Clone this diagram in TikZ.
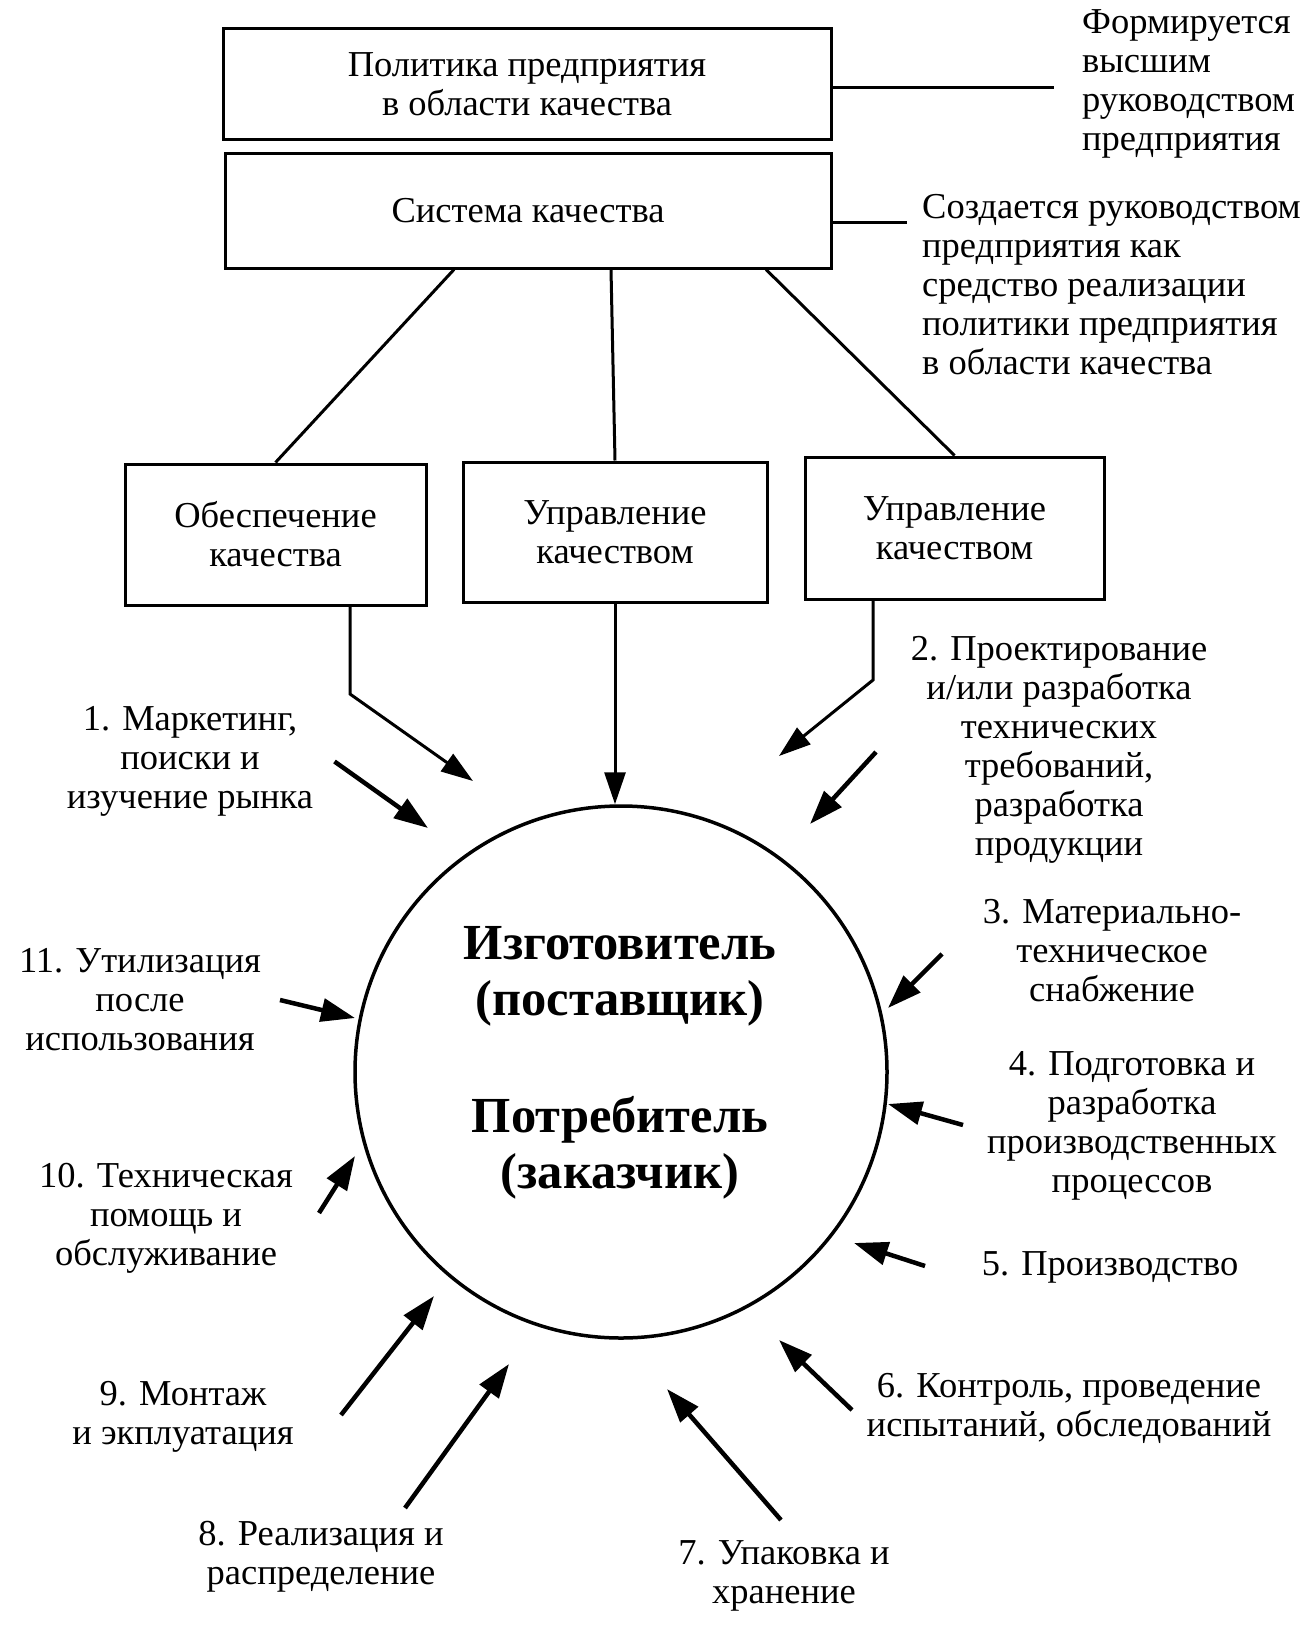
\documentclass[tikz,border=0pt]{standalone}
\usepackage{fontspec}
\setmainfont{Liberation Serif}
\usetikzlibrary{arrows.meta}
\begin{document}
\begin{tikzpicture}[x=1pt,y=-1pt,
  txt/.style={font=\fontsize{36.5}{39}\selectfont},
  box/.style={draw,line width=3pt,inner sep=0pt,align=center,txt},
  lbl/.style={align=center,inner sep=0pt,txt},
  conn/.style={line width=3pt},
  barr/.style={line width=3pt,-{Triangle[length=32pt,width=21pt]}},
  arr/.style={line width=4.5pt,-{Triangle[length=34pt,width=23pt]}},
  big/.style={align=center,inner sep=0pt,font=\fontsize{50.5}{56}\selectfont\bfseries}]
\useasboundingbox[fill=white] (0,0) rectangle (1312,1629);

% boxes
\node[box,minimum width=608pt,minimum height=111pt] (pol) at (527,84.5) {Политика предприятия\\в области качества};
\node[box,minimum width=606pt,minimum height=114pt] (sys) at (528,211) {Система качества};
\node[box,minimum width=301pt,minimum height=141pt] (obe) at (275.5,534.5) {Обеспечение\\качества};
\node[box,minimum width=304pt,minimum height=140pt] (upr1) at (615,532) {Управление\\качеством};
\node[box,minimum width=299pt,minimum height=142pt] (upr2) at (954.5,528) {Управление\\качеством};

% side notes
\node[lbl,align=left,anchor=west,inner xsep=28pt] (form) at (1054,84) {Формируется\\высшим\\руководством\\предприятия};
\node[lbl,align=left,anchor=west,inner xsep=15pt] (sozd) at (907,285) {Создается руководством\\предприятия как\\средство реализации\\политики предприятия\\в области качества};
\draw[conn] ([yshift=-3.5pt]pol.east) -- ([yshift=-3.5pt]pol.east -| form.west);
\draw[conn] ([yshift=-12pt]sys.east) -- ([yshift=-12pt]sys.east -| sozd.west);

% tree lines
\draw[conn] ([xshift=-74pt]sys.south) -- (obe.north);
\draw[conn] ([xshift=83pt]sys.south) -- (upr1.north);
\draw[conn] ([xshift=238pt]sys.south) -- (upr2.north);

% circle
\node[circle,draw,line width=3.5pt,minimum size=532pt,inner sep=0pt] (circ) at (621,1072) {};
\node[big] (izg) at (620,976) {Изготовитель\\(поставщик)};
\node[big] (potr) at (620,1148) {Потребитель\\(заказчик)};

% arrows from boxes
\coordinate (aT) at (350,694);
\coordinate (aE) at (473,781);
\coordinate (cT) at (873,680);
\coordinate (cE) at (779,756);
\draw[barr] (obe.south -| aT) -- (aT) -- (aE);
\draw[barr] (upr1.south) -- (upr1.south |- circ.north);
\draw[barr] (upr2.south -| cT) -- (cT) -- (cE);

% labels
\node[lbl] (l1) at (190,761) {1. Маркетинг,\\поиски и\\изучение рынка};
\node[lbl] (l2) at (1059,750) {2. Проектирование\\и/или разработка\\технических\\требований,\\разработка\\продукции};
\node[lbl] (l3) at (1112,951) {3. Материально-\\техническое\\снабжение};
\node[lbl] (l4) at (1132,1126) {4. Подготовка и\\разработка\\производственных\\процессов};
\node[lbl] (l5) at (1110,1267) {5. Производство};
\node[lbl] (l6) at (1069,1408) {6. Контроль, проведение\\испытаний, обследований};
\node[lbl] (l7) at (784,1576) {7. Упаковка и\\хранение};
\node[lbl] (l8) at (321,1557) {8. Реализация и\\распределение};
\node[lbl] (l9) at (183,1417) {9. Монтаж\\и экплуатация};
\node[lbl] (l10) at (166,1218) {10. Техническая\\помощь и\\обслуживание};
\node[lbl] (l11) at (140,1000) {11. Утилизация\\после\\использования};

% outer arrows
\coordinate (s1) at (334.5,761.5); \coordinate (e1) at (428,828);
\coordinate (s2) at (876,752);     \coordinate (e2) at (810,824);
\coordinate (s3) at (942,954);     \coordinate (e3) at (888,1008);
\coordinate (s4) at (963,1125);    \coordinate (e4) at (888,1104);
\coordinate (s5) at (925,1266);    \coordinate (e5) at (854,1243);
\coordinate (s6) at (852,1410);    \coordinate (e6) at (779,1340);
\coordinate (s7) at (781,1520);    \coordinate (e7) at (667,1389);
\coordinate (s8) at (405,1508);    \coordinate (e8) at (509,1364);
\coordinate (s9) at (341,1415);    \coordinate (e9) at (434,1296);
\coordinate (s10) at (319,1213);   \coordinate (e10) at (355,1156);
\coordinate (s11) at (280,1000);   \coordinate (e11) at (355,1018);
\foreach \i in {1,...,11} {\draw[arr] (s\i) -- (e\i);}
\end{tikzpicture}
\end{document}
